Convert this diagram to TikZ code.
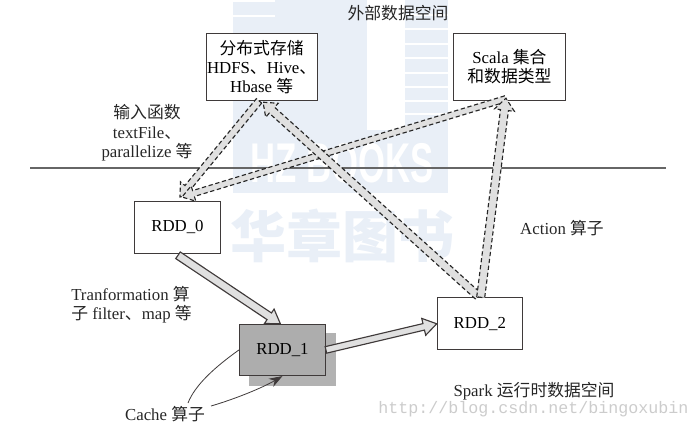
\documentclass[tikz,border=0pt]{standalone}
\usepackage{fontspec}
\setmainfont{Liberation Serif}
\newfontfamily\cjk{Noto Sans CJK SC}
\newfontfamily\wmfont{Liberation Mono}
\newfontfamily\hzfont{Liberation Sans}
\usetikzlibrary{calc,arrows.meta}
\definecolor{wm}{HTML}{E9EFF7}
\definecolor{edge}{HTML}{3F3A3A}
\definecolor{shaftfill}{HTML}{E0E0E0}
\tikzset{
  x=0.75pt,y=-0.75pt,
  box/.style={draw=edge,line width=0.7pt,fill=white,anchor=north west,inner sep=0pt,align=center,font=\fontsize{12.6}{14.5}\selectfont},
  lbl/.style={inner sep=0pt,align=center,text=black!85,font=\fontsize{12.6}{14.5}\selectfont},
  dashedarrow/.style={draw=black!85,fill=shaftfill,line width=0.85pt,dash pattern=on 3.2pt off 2pt},
  solidarrow/.style={draw=edge,fill=shaftfill,line width=0.85pt},
}
% #1 style, #2 from, #3 to, #4 half shaft width, #5 half head width, #6 head length
\newcommand{\blockarrow}[6]{%
  \path[#1] ($(#2)!#4!90:(#3)$)
    -- ($($(#3)!#6!(#2)$)!#4!90:(#3)$)
    -- ($($(#3)!#6!(#2)$)!#5!90:(#3)$)
    -- (#3)
    -- ($($(#3)!#6!(#2)$)!#5!-90:(#3)$)
    -- ($($(#3)!#6!(#2)$)!#4!-90:(#3)$)
    -- ($(#2)!#4!-90:(#3)$) -- cycle;}
\begin{document}
\begin{tikzpicture}
\useasboundingbox (0,0) rectangle (700,429);
% watermark
\fill[wm] (233,0) rectangle (367,130);
\fill[wm] (405,0) rectangle (448,130);
\fill[wm] (233,130) rectangle (448,193);
\foreach \yy in {0,15,45}{\fill[white] (233,\yy) rectangle (275,\yy+1.5);}
\foreach \yy in {14,28,43,57,72,86,100,113}{\fill[white] (405,\yy) rectangle (448,\yy+1.5);}
\node[text=white,inner sep=0pt,xscale=0.62,transform shape,font=\hzfont\bfseries\fontsize{42}{42}\selectfont] (hz) at (342,163) {HZ BOOKS};
\node[text=wm,inner sep=0pt,font=\cjk\bfseries\fontsize{42}{42}\selectfont] (hzcn) at (342,236) {华章图书};
% divider
\coordinate (ruleL) at (30,168);
\coordinate (ruleR) at (666,168);
\draw[black!60,line width=0.8pt] (ruleL) -- (ruleR);
% boxes
\fill[black!30] (249,333) rectangle (335.7,385.7);
\node[box,minimum width=83.2pt,minimum height=50.2pt] (hdfs) at (205.7,33) {{\cjk 分布式存储}\\HDFS{\cjk 、}Hive{\cjk 、}\\Hbase {\cjk 等}};
\node[box,minimum width=83.5pt,minimum height=50.2pt] (scala) at (453.3,33) {Scala {\cjk 集合}\\{\cjk 和数据类型}};
\node[box,minimum width=64.5pt,minimum height=39pt] (rdd0) at (134,201) {RDD\_0};
\node[box,minimum width=64.5pt,minimum height=38.6pt,fill=black!32] (rdd1) at (239,323.7) {RDD\_1};
\node[box,minimum width=64pt,minimum height=39pt] (rdd2) at (436.7,297.3) {RDD\_2};
% anchor points for connectors
\coordinate (hL) at ([xshift=40pt]hdfs.south west);
\coordinate (hR) at ([xshift=43pt,yshift=-1pt]hdfs.south west);
\coordinate (s0) at ([xshift=39pt,yshift=1.5pt]scala.south west);
\coordinate (s1) at ([xshift=39.5pt,yshift=2pt]scala.south west);
\coordinate (r0a) at ([xshift=34.5pt,yshift=3pt]rdd0.north west);
\coordinate (r0b) at ([xshift=36pt,yshift=3pt]rdd0.north west);
\coordinate (r2a) at ([xshift=31pt,yshift=1pt]rdd2.north west);
\coordinate (r2b) at ([xshift=33pt]rdd2.north west);
\coordinate (r0s) at ([xshift=33pt,yshift=-1pt]rdd0.south west);
\coordinate (r1n) at ([xshift=31pt]rdd1.north west);
\coordinate (r1e) at (rdd1.east);
\coordinate (r2w) at (rdd2.west);
\coordinate (c1) at (188,403);
\coordinate (c2) at (211,406);
% connectors
\blockarrow{dashedarrow}{hL}{r0a}{2.6pt}{7pt}{9pt}
\blockarrow{dashedarrow}{s0}{r0b}{2.3pt}{6pt}{9pt}
\blockarrow{dashedarrow}{r2a}{hR}{3pt}{7pt}{9pt}
\blockarrow{dashedarrow}{r2b}{s1}{3pt}{7.5pt}{9pt}
\blockarrow{solidarrow}{r0s}{r1n}{3pt}{6.5pt}{10pt}
\blockarrow{solidarrow}{r1e}{r2w}{2.5pt}{6.5pt}{10pt}
% labels
\node[lbl] (ext) at (398,13) {\cjk 外部数据空间};
\node[lbl] (input) at (147,133) {{\cjk 输入函数}\\textFile{\cjk 、}\\parallelize {\cjk 等}};
\node[lbl] (action) at (562,228) {Action {\cjk 算子}};
\node[lbl,align=left] (trans) at (131.5,305) {Tranformation {\cjk 算}\\{\cjk 子} filter{\cjk 、}map {\cjk 等}};
\node[lbl] (cache) at (165,414) {Cache {\cjk 算子}};
\node[lbl] (spark) at (534,391) {Spark {\cjk 运行时数据空间}};
\node[inner sep=0pt,text=black!20,font=\wmfont\fontsize{12.5}{12.5}\selectfont] (url) at (533.5,409.5) {http://blog.csdn.net/bingoxubin};
% cache pointers
\draw[edge,line width=0.6pt] (c1) .. controls (195,385) and (215,367) .. (rdd1.west);
\draw[edge,line width=0.6pt,-{Stealth[length=10pt,width=7pt]}] (c2) .. controls (235,399) and (262,388) .. (rdd1.south);
\end{tikzpicture}
\end{document}
